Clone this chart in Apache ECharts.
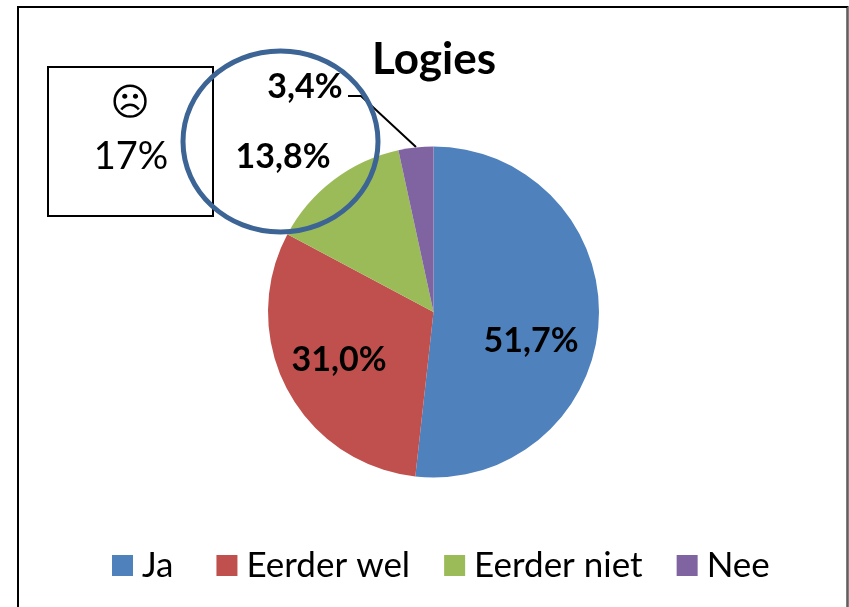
<!DOCTYPE html>
<html><head><meta charset="utf-8">
<style>html,body{margin:0;padding:0;background:#fff}#c{width:849px;height:607px}</style>
<script src="https://cdn.jsdelivr.net/npm/echarts@6/dist/echarts.min.js"></script>
</head><body><div id="c"></div>
<script>
const categories = ['Ja', 'Eerder wel', 'Eerder niet', 'Nee'];
const values = [51.7, 31.0, 13.8, 3.4];
const colors = ['#4f81bd', '#c0504d', '#9bbb59', '#8064a2'];
const labelPositions = [[531, 341], [339, 360], [283, 157], [305, 87]];
const titleText = 'Logies';
const boxFace = '☹';
const boxValue = '17%';
const font = 'Lato, Carlito, sans-serif';

const chart = echarts.init(document.getElementById('c'), null, {renderer: 'canvas'});
chart.setOption({
  animation: false,
  backgroundColor: '#fff',
  title: {text: titleText, left: 429, top: 33, textAlign: 'center',
    textStyle: {fontFamily: font, fontWeight: 'bold', fontSize: 44, color: '#000'}},
  legend: {
    data: categories,
    formatter: name => name === categories[0] ? name + '\u00a0' : name,
    left: 107, top: 543, itemWidth: 21, itemHeight: 21, itemGap: 34, icon: 'rect',
    textStyle: {fontFamily: font, fontSize: 35, color: '#000', padding: [0, 0, 0, 4]}
  },
  color: colors,
  series: [{
    type: 'pie', center: [433.5, 312], radius: [0, 165.5], startAngle: 90, clockwise: true,
    silent: true,
    data: categories.map((name, i) => ({name, value: values[i], labelLine: {show: false}})),
    label: {
      position: 'inside',
      formatter: p => p.value.toFixed(1).replace('.', ',') + '%',
      fontFamily: font, fontWeight: 'bold', fontSize: 34, color: '#000'
    },
    labelLayout: p => {
      const lp = labelPositions[p.dataIndex];
      return {x: lp[0], y: lp[1], align: 'center', verticalAlign: 'middle'};
    },
    itemStyle: {borderWidth: 0}
  }],
  graphic: [
    {type: 'polyline', z: 1, shape: {points: [[348, 96], [361, 96], [416, 147]]}, style: {stroke: '#000', lineWidth: 2, fill: null}},
    {type: 'rect', z: 1, shape: {x: 18, y: 7, width: 829.5, height: 620}, style: {fill: null, stroke: '#000', lineWidth: 2}},
    {type: 'line', z: 1, shape: {x1: 848, y1: 7, x2: 848, y2: 607}, style: {stroke: '#808080', lineWidth: 1.5}},
    {type: 'rect', z: 1, shape: {x: 48, y: 67, width: 165, height: 149}, style: {fill: '#fff', stroke: '#000', lineWidth: 2}},
    {type: 'text', z: 2, style: {text: boxFace, x: 130, y: 105, align: 'center', verticalAlign: 'middle', font: '38px "DejaVu Sans"', fill: '#000'}},
    {type: 'text', z: 2, style: {text: boxValue, x: 131, y: 157, align: 'center', verticalAlign: 'middle', font: '38px ' + font, fill: '#000'}},
    {type: 'ellipse', z: 100, shape: {cx: 280.5, cy: 141.5, rx: 97.5, ry: 90.5}, style: {fill: null, stroke: '#3c6494', lineWidth: 5}}
  ]
});
</script></body></html>
